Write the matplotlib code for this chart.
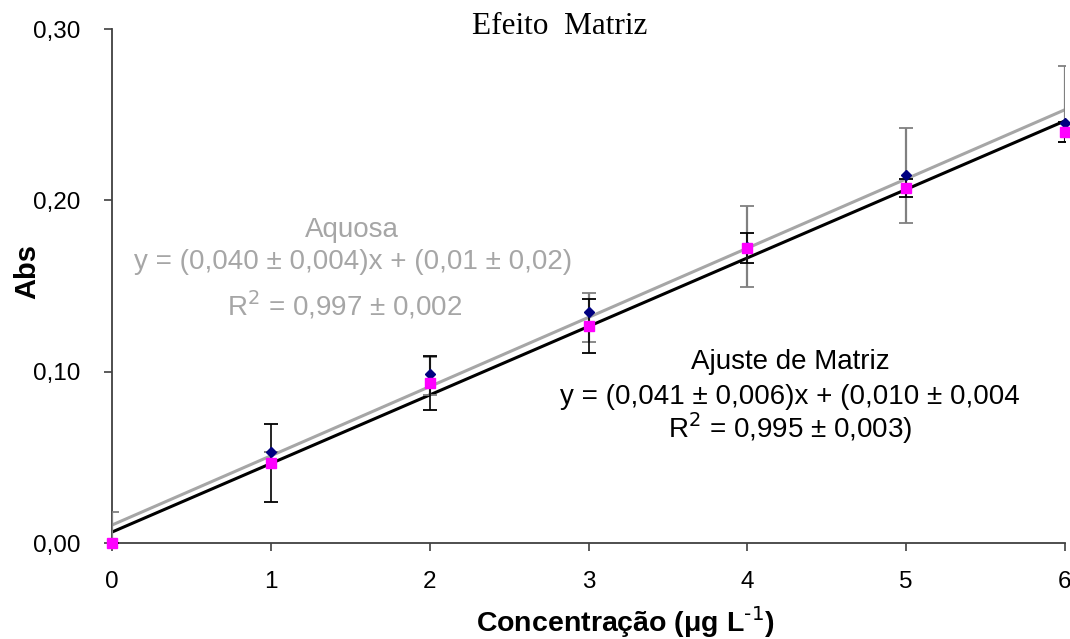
import matplotlib
matplotlib.use("Agg")
import matplotlib.pyplot as plt
import numpy as np

# ---- data ----
conc = [0, 1, 2, 3, 4, 5, 6]
abs_aquosa = [0.000, 0.0531, 0.0987, 0.1349, 0.1730, 0.2150, 0.2452]
err_aquosa_low = [0.018, 0.0, 0.0123, 0.0176, 0.0237, 0.0282, 0.011]
err_aquosa_up = [0.018, 0.0, 0.0100, 0.0111, 0.0237, 0.0273, 0.0333]
abs_matriz = [0.000, 0.0467, 0.0934, 0.1267, 0.1722, 0.2072, 0.2399]
err_matriz = [0.0, 0.0228, 0.0160, 0.0160, 0.0085, 0.0050, 0.0060]
fit_aquosa = (0.0404, 0.0105)   # slope, intercept
fit_matriz = (0.0400, 0.0064)
x_ticks = [0, 1, 2, 3, 4, 5, 6]
y_ticks = [0.0, 0.1, 0.2, 0.3]
y_ticklabels = ["0,00", "0,10", "0,20", "0,30"]

plt.rcParams['font.family'] = ['Liberation Sans', 'DejaVu Sans']

fig = plt.figure(figsize=(10.7, 6.39), dpi=100)
ax = fig.add_axes([0.1047, 0.1502, 0.8906, 0.8044])

xl = np.array([0, 6])
ax.plot(xl, fit_aquosa[0] * xl + fit_aquosa[1], color='#a6a6a6', lw=2.2, zorder=2)
ax.plot(xl, fit_matriz[0] * xl + fit_matriz[1], color='black', lw=2.2, zorder=2)

ax.errorbar(conc, abs_aquosa, yerr=[err_aquosa_low, err_aquosa_up], fmt='none',
            ecolor='#808080', elinewidth=1.6, capsize=5, capthick=1.3, zorder=3)
ax.errorbar(conc, abs_matriz, yerr=err_matriz, fmt='none',
            ecolor='black', elinewidth=1.2, capsize=5, capthick=1.3, zorder=3)

ax.plot(conc, abs_aquosa, linestyle='none', marker='D', ms=5.5, color='#000080',
        zorder=4, clip_on=False)
ax.plot(conc, abs_matriz, linestyle='none', marker='s', ms=7, color='#ff00ff',
        zorder=5, clip_on=False)

ax.set_xlim(0, 6)
ax.set_ylim(0, 0.30)
ax.set_xticks(x_ticks)
ax.set_xticklabels([str(v) for v in x_ticks])
ax.set_yticks(y_ticks)
ax.set_yticklabels(y_ticklabels)
ax.tick_params(axis='both', direction='out', length=6, width=1.2, color='#404040',
               labelsize=17.5, labelcolor='black')
ax.tick_params(axis='y', pad=17)
ax.tick_params(axis='x', pad=14)
for s in ['top', 'right']:
    ax.spines[s].set_visible(False)
for s in ['left', 'bottom']:
    ax.spines[s].set_color('#404040')
    ax.spines[s].set_linewidth(1.3)

fig.text(27/1070, 1 - 272/639, 'Abs', rotation=90, ha='center', va='center',
         fontsize=21, fontweight='bold')
fig.text(625/1070, 1 - 622/639, 'Concentração (μg L$^{\\text{-1}}$)', ha='center',
         va='center', fontsize=20.5, fontweight='bold')

fig.text(560/1070, 1 - 26/639, 'Efeito  Matriz', ha='center', va='center',
         fontsize=22.5, family=['Liberation Serif', 'DejaVu Serif'])

gray = '#a6a6a6'
fs = 20
fig.text(352/1070, 1 - 230/639, 'Aquosa', ha='center', va='center', fontsize=fs, color=gray)
fig.text(353/1070, 1 - 262/639, 'y = (0,040 ± 0,004)x + (0,01 ± 0,02)', ha='center',
         va='center', fontsize=fs, color=gray)
fig.text(345/1070, 1 - 305/639, 'R$^2$ = 0,997 ± 0,002', ha='center', va='center',
         fontsize=fs, color=gray)

fig.text(790/1070, 1 - 362/639, 'Ajuste de Matriz', ha='center', va='center', fontsize=fs,
         color='black')
fig.text(790/1070, 1 - 397/639, 'y = (0,041 ± 0,006)x + (0,010 ± 0,004', ha='center',
         va='center', fontsize=fs, color='black')
fig.text(790/1070, 1 - 428/639, 'R$^2$ = 0,995 ± 0,003)', ha='center', va='center',
         fontsize=fs, color='black')

fig.savefig('out.png', dpi=100)
